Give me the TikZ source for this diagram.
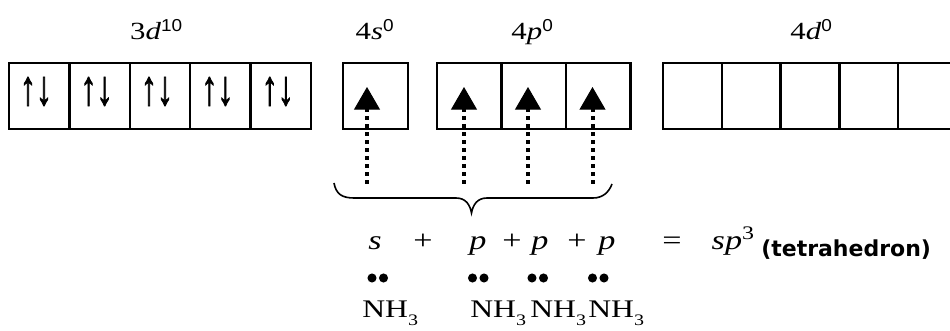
\documentclass[tikz,border=0pt]{standalone}
\usepackage{fontspec}
\setmainfont{Liberation Serif}[FakeStretch=1.25]
\setsansfont{Liberation Sans}[FakeStretch=1.1]
\newfontfamily\spinfont{Liberation Sans}[FakeStretch=0.65,FakeBold=1.5]
\newfontfamily\notefont{DejaVu Sans}
\usetikzlibrary{arrows.meta}

\begin{document}
\begin{tikzpicture}[x=0.75pt,y=-0.75pt,
  orb/.style={rectangle,draw,line width=1.9pt,inner sep=0pt,minimum height=49.5pt},
  orbd/.style={orb,minimum width=45.3pt},
  orbsp/.style={orb,minimum width=48.4pt},
  orbf/.style={orb,minimum width=44.1pt},
  spin/.style={inner sep=0pt,font=\spinfont\fontsize{37}{40}\selectfont},
  lbl/.style={inner sep=0pt,anchor=base,font=\fontsize{18.5}{20}\selectfont},
  eq/.style={inner sep=0pt,anchor=base,font=\fontsize{20.5}{24}\selectfont},
  mol/.style={inner sep=0pt,anchor=base west,font=\fontsize{19}{22}\selectfont},
  lp/.style={circle,fill,inner sep=0pt,minimum size=6.8pt},
  dotarrow/.style={line width=3pt,dash pattern=on 3pt off 3pt,
    -{Triangle[length=17pt,width=19.5pt,line width=0.75pt]}}
]
  \useasboundingbox (0,0) rectangle (950,331);
  \node[lbl] (l3d) at (156.5,40) {3\textit{d}\textsuperscript{\sffamily 10}};
  \node[lbl] (l4s) at (375,40) {4\textit{s}\textsuperscript{\sffamily 0}};
  \node[lbl] (l4p) at (532.5,40) {4\textit{p}\textsuperscript{\sffamily 0}};
  \node[lbl] (l4d) at (811.5,40) {4\textit{d}\textsuperscript{\sffamily 0}};

  \node[orbd] (d1) at (39.2,96) {};
  \node[orbd] (d2) at (99.6,96) {};
  \node[orbd] (d3) at (160,96) {};
  \node[orbd] (d4) at (220.4,96) {};
  \node[orbd] (d5) at (280.8,96) {};
  \node[spin] (e1) at (36,91.5) {↑↓};
  \node[spin] (e2) at (96.6,91.5) {↑↓};
  \node[spin] (e3) at (157,91.5) {↑↓};
  \node[spin] (e4) at (217.4,91.5) {↑↓};
  \node[spin] (e5) at (277.8,91.5) {↑↓};

  \node[orbsp,minimum width=48.75pt] (s1) at (375.5,96) {};
  \node[orbsp] (p1) at (469.25,96) {};
  \node[orbsp] (p2) at (533.75,96) {};
  \node[orbsp] (p3) at (598.25,96) {};

  \node[orbf] (f1) at (692.4,96) {};
  \node[orbf] (f2) at (751.2,96) {};
  \node[orbf] (f3) at (810,96) {};
  \node[orbf] (f4) at (868.8,96) {};
  \node[orbf] (f5) at (927.6,96) {};

  \coordinate (t4s) at (367,87);   \coordinate (b4s) at (367,184);
  \coordinate (t4p1) at (464,87);  \coordinate (b4p1) at (464,184);
  \coordinate (t4p2) at (528,87);  \coordinate (b4p2) at (528,184);
  \coordinate (t4p3) at (592.5,87); \coordinate (b4p3) at (592.5,184);
  \draw[dotarrow] (b4s) -- (t4s);
  \draw[dotarrow] (b4p1) -- (t4p1);
  \draw[dotarrow] (b4p2) -- (t4p2);
  \draw[dotarrow] (b4p3) -- (t4p3);

  \draw[line width=1.2pt] (334,183) .. controls (336,194) and (342,198) .. (354,198) -- (456,198)
    .. controls (466,198) and (470,205) .. (471.5,213)
    .. controls (473,205) and (477,198) .. (487,198) -- (593,198)
    .. controls (603,198) and (609,192) .. (612,184);

  \node[eq] (hs) at (375,250) {\textit{s}};
  \node[eq] (pl1) at (423,250) {+};
  \node[eq] (hp1) at (478,250) {\textit{p}};
  \node[eq] (pl2) at (512,250) {+};
  \node[eq] (hp2) at (540,250) {\textit{p}};
  \node[eq] (pl3) at (577,250) {+};
  \node[eq] (hp3) at (607,250) {\textit{p}};
  \node[eq] (eqs) at (672,250) {=};
  \node[eq,anchor=base east] (sp3) at (755,250) {\textit{sp}\textsuperscript{3}};
  \node[inner sep=0pt,anchor=base west,font=\notefont\bfseries\fontsize{16.5}{20}\selectfont] (geo) at (761,257) {(tetrahedron)};

  \node[lp] (lp1a) at (372,278) {};   \node[lp] (lp1b) at (383.5,278) {};
  \node[lp] (lp2a) at (472.5,278) {}; \node[lp] (lp2b) at (484,278) {};
  \node[lp] (lp3a) at (532,278) {};   \node[lp] (lp3b) at (543.5,278) {};
  \node[lp] (lp4a) at (592.5,278) {}; \node[lp] (lp4b) at (604,278) {};

  \node[mol] (nh1) at (362,318) {NH\raisebox{-6pt}{\fontsize{12}{12}\selectfont 3}};
  \node[mol] (nh2) at (470,318) {NH\raisebox{-6pt}{\fontsize{12}{12}\selectfont 3}};
  \node[mol] (nh3) at (530,318) {NH\raisebox{-6pt}{\fontsize{12}{12}\selectfont 3}};
  \node[mol] (nh4) at (588,318) {NH\raisebox{-6pt}{\fontsize{12}{12}\selectfont 3}};
\end{tikzpicture}
\end{document}
